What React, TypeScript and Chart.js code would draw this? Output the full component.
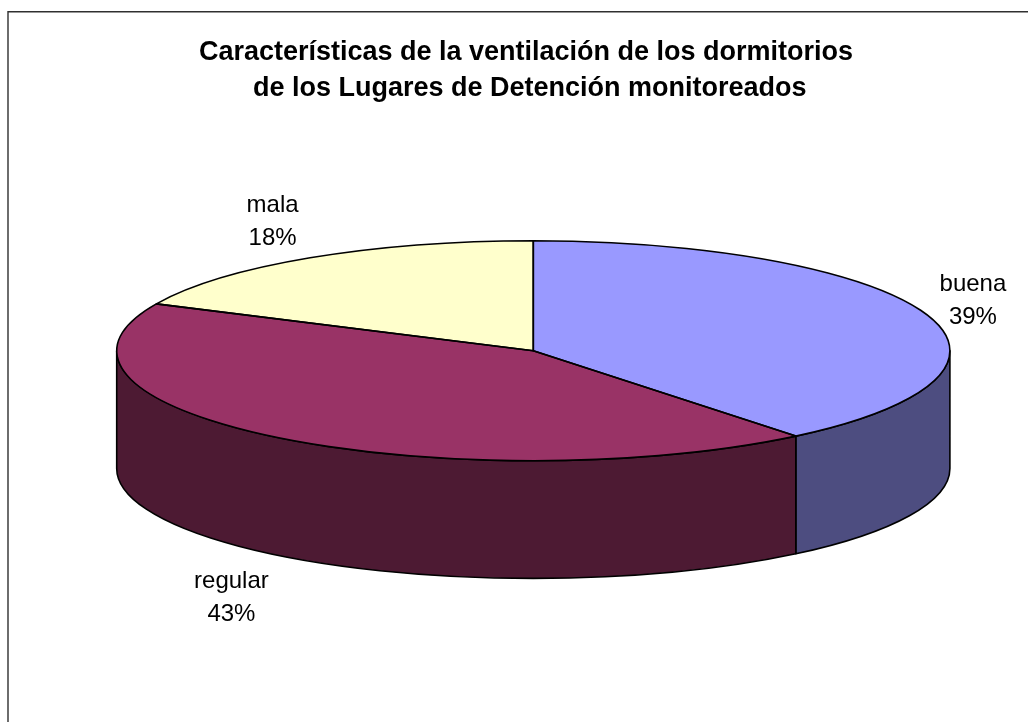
import React, { useEffect, useRef } from "react";
import { Chart, registerables } from "chart.js";

Chart.register(...registerables);

const categories = ["buena", "regular", "mala"];
const shares = [39.15, 42.85, 18];
const topColors = ["#9999FF", "#993366", "#FFFFCC"];
const wallColors = ["#4D4D80", "#4D1A33", "#808066"];
const titleLines = ["Características de la ventilación de los dormitorios", " de los Lugares de Detención monitoreados"];

const FONT = "'Liberation Sans', Arial, sans-serif";
const PIE = { cx: 533.3, cy: 350.7, rx: 416.6, ry: 110, depth: 117.7 };
const LABEL_SHIFT = [
  [47, -13.2],
  [-45, 42.7],
  [-37.5, -36.3],
];
const LINE_GAP = 16.5;

function pieTiltPlugin() {
  const arcsOf = (chart: any) => chart.getDatasetMeta(0).data as any[];
  const outline = (ctx: CanvasRenderingContext2D, a0: number, a1: number) => {
    ctx.beginPath();
    ctx.moveTo(PIE.cx, PIE.cy);
    ctx.ellipse(PIE.cx, PIE.cy, PIE.rx, PIE.ry, 0, a0, a1);
    ctx.closePath();
    ctx.stroke();
  };
  return {
    id: "pieTilt",
    beforeDraw(chart: any) {
      const { ctx, width, height } = chart;
      ctx.save();
      ctx.fillStyle = "#FFFFFF";
      ctx.fillRect(0, 0, width, height);
      ctx.strokeStyle = "#303030";
      ctx.lineWidth = 1.4;
      ctx.beginPath();
      ctx.moveTo(8, height);
      ctx.lineTo(8, 11.7);
      ctx.lineTo(width, 11.7);
      ctx.stroke();
      ctx.restore();
    },
    beforeDatasetDraw(chart: any) {
      const { ctx } = chart;
      const arcs = arcsOf(chart);
      ctx.save();
      ctx.strokeStyle = "#000000";
      ctx.lineWidth = 1.6;
      ctx.lineJoin = "round";
      arcs.forEach((arc, i) => {
        const s = Math.max(arc.startAngle, 0);
        const e = Math.min(arc.endAngle, Math.PI);
        if (e <= s) return;
        ctx.fillStyle = wallColors[i];
        ctx.beginPath();
        ctx.ellipse(PIE.cx, PIE.cy, PIE.rx, PIE.ry, 0, s, e);
        ctx.ellipse(PIE.cx, PIE.cy + PIE.depth, PIE.rx, PIE.ry, 0, e, s, true);
        ctx.closePath();
        ctx.fill();
        ctx.stroke();
      });
      ctx.restore();
      const first = arcs[0];
      ctx.save();
      ctx.translate(PIE.cx, PIE.cy);
      ctx.scale(PIE.rx / first.outerRadius, PIE.ry / first.outerRadius);
      ctx.translate(-first.x, -first.y);
    },
    afterDatasetDraw(chart: any) {
      const { ctx } = chart;
      ctx.restore();
      ctx.save();
      ctx.strokeStyle = "#000000";
      ctx.lineWidth = 1.6;
      ctx.lineJoin = "round";
      arcsOf(chart).forEach((arc) => outline(ctx, arc.startAngle, arc.endAngle));
      ctx.restore();
    },
    afterDraw(chart: any) {
      const { ctx } = chart;
      const total = shares.reduce((a, b) => a + b, 0);
      ctx.save();
      ctx.fillStyle = "#000000";
      ctx.font = `24px ${FONT}`;
      ctx.textAlign = "center";
      ctx.textBaseline = "middle";
      arcsOf(chart).forEach((arc, i) => {
        const mid = (arc.startAngle + arc.endAngle) / 2;
        const front = Math.sin(mid) > 0 ? PIE.depth : 0;
        const x = PIE.cx + PIE.rx * Math.cos(mid) + LABEL_SHIFT[i][0];
        const y = PIE.cy + PIE.ry * Math.sin(mid) + front + LABEL_SHIFT[i][1];
        ctx.fillText(categories[i], x, y - LINE_GAP);
        ctx.fillText(`${Math.round((shares[i] / total) * 100)}%`, x, y + LINE_GAP);
      });
      ctx.restore();
    },
  };
}

export default function App() {
  const ref = useRef<HTMLCanvasElement | null>(null);
  useEffect(() => {
    document.body.style.margin = "0";
    const chart = new Chart(ref.current!, {
      type: "pie",
      data: {
        labels: categories,
        datasets: [{ data: shares, backgroundColor: topColors, borderWidth: 0 }],
      },
      options: {
        responsive: false,
        animation: false,
        layout: { padding: { left: 24, top: 35 } },
        plugins: {
          legend: { display: false },
          tooltip: { enabled: false },
          title: {
            display: true,
            text: titleLines,
            color: "#000000",
            font: { family: FONT, size: 27, weight: "bold", lineHeight: 36 / 27 },
            padding: 0,
          },
        },
      },
      plugins: [pieTiltPlugin()],
    } as any);
    return () => chart.destroy();
  }, []);
  return (
    <div style={{ width: 1028, height: 722, overflow: "hidden" }}>
      <canvas ref={ref} width={1028} height={722} style={{ display: "block" }} />
    </div>
  );
}
